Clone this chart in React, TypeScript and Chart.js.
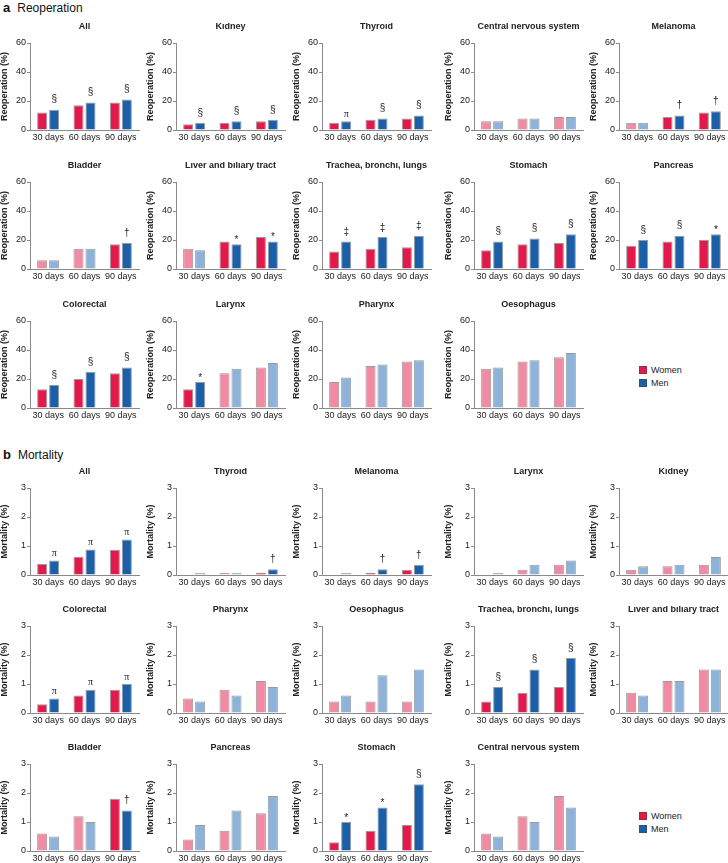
import React, { useEffect, useRef } from "react";
import { Chart, registerables } from "chart.js";
Chart.register(...registerables);

const FONT = '"Liberation Sans", Arial, Helvetica, sans-serif';
Chart.defaults.font.family = FONT;
Chart.defaults.color = "#222";

const DAYS = ["30 days", "60 days", "90 days"];

// ---- Reoperation (%) ----
const reopTitles = [
  "All", "Kidney", "Thyroid", "Central nervous system", "Melanoma",
  "Bladder", "Liver and biliary tract", "Trachea, bronchi, lungs", "Stomach", "Pancreas",
  "Colorectal", "Larynx", "Pharynx", "Oesophagus",
];
const reopWomen = [
  [12, 17, 19], [4, 5, 6], [5, 7, 8], [6, 8, 9], [5, 9, 12],
  [6, 14, 17], [14, 19, 22], [12, 14, 15], [13, 17, 18], [16, 19, 20],
  [13, 20, 24], [13, 24, 28], [18, 29, 32], [27, 32, 35],
];
const reopMen = [
  [14, 19, 21], [5, 6, 7], [6, 8, 10], [6, 8, 9], [5, 10, 13],
  [6, 14, 18], [13, 17, 19], [19, 22, 23], [19, 21, 24], [20, 23, 24],
  [16, 25, 28], [18, 27, 31], [21, 30, 33], [28, 33, 38],
];
const reopMarks = [
  ["§", "§", "§"], ["§", "§", "§"], ["π", "§", "§"], ["", "", ""], ["", "†", "†"],
  ["", "", "†"], ["", "*", "*"], ["‡", "‡", "‡"], ["§", "§", "§"], ["§", "§", "*"],
  ["§", "§", "§"], ["*", "", ""], ["", "", ""], ["", "", ""],
];

// ---- Mortality (%) ----
const mortTitles = [
  "All", "Thyroid", "Melanoma", "Larynx", "Kidney",
  "Colorectal", "Pharynx", "Oesophagus", "Trachea, bronchi, lungs", "Liver and biliary tract",
  "Bladder", "Pancreas", "Stomach", "Central nervous system",
];
const mortWomen = [
  [0.38, 0.63, 0.87], [0, 0.07, 0.08], [0, 0.08, 0.18], [0, 0.18, 0.35], [0.18, 0.3, 0.35],
  [0.3, 0.6, 0.8], [0.5, 0.8, 1.1], [0.4, 0.4, 0.4], [0.4, 0.7, 0.9], [0.7, 1.1, 1.5],
  [0.6, 1.2, 1.8], [0.4, 0.7, 1.3], [0.3, 0.7, 0.9], [0.6, 1.2, 1.9],
];
const mortMen = [
  [0.5, 0.88, 1.22], [0.08, 0.08, 0.2], [0.08, 0.2, 0.35], [0.08, 0.35, 0.5], [0.3, 0.35, 0.62],
  [0.5, 0.8, 1.0], [0.4, 0.6, 0.9], [0.6, 1.3, 1.5], [0.9, 1.5, 1.9], [0.6, 1.1, 1.5],
  [0.5, 1.0, 1.4], [0.9, 1.4, 1.9], [1.0, 1.5, 2.3], [0.5, 1.0, 1.5],
];
const mortMarks = [
  ["π", "π", "π"], ["", "", "†"], ["", "†", "†"], ["", "", ""], ["", "", ""],
  ["π", "π", "π"], ["", "", ""], ["", "", ""], ["§", "§", "§"], ["", "", ""],
  ["", "", "†"], ["", "", ""], ["*", "*", "§"], ["", "", ""],
];

const W_BOLD = "#E3194B";
const W_PALE = "#F08BA3";
const M_BOLD = "#1B5FA9";
const M_PALE = "#8DB3DB";
const AXIS = "#8a8a8a";
const BORDER = "rgba(70,70,70,0.55)";

const COL_X = [29, 175, 321, 473, 618];
const REOP_TOPS = [43, 182, 321];
const MORT_TOPS = [488, 626, 764];

const MARK_OFFSET: Record<string, number> = { "§": 10, "†": 10, "‡": 9, "π": 7, "*": 4 };

type PanelProps = {
  axisX: number;
  top: number;
  title: string;
  women: number[];
  men: number[];
  marks: string[];
  yTitle: string;
  max: number;
  step: number;
};

function Panel({ axisX, top, title, women, men, marks, yTitle, max, step }: PanelProps) {
  const ref = useRef<HTMLCanvasElement>(null);
  useEffect(() => {
    const bold = marks.map((m) => m !== "");
    const annot = {
      id: "annot",
      afterDatasetsDraw(chart: any) {
        const { ctx, chartArea } = chart;
        ctx.save();
        ctx.fillStyle = "#222";
        ctx.textAlign = "center";
        ctx.textBaseline = "middle";
        ctx.font = `bold 9px ${FONT}`;
        ctx.fillText(title, (chartArea.left + chartArea.right) / 2, chartArea.top - 16);
        const meta = chart.getDatasetMeta(1);
        meta.data.forEach((el: any, i: number) => {
          const m = marks[i];
          if (!m) return;
          ctx.font = m === "π" ? '10px "Liberation Serif", serif' : `10px ${FONT}`;
          ctx.fillText(m, el.x, el.y - (MARK_OFFSET[m] ?? 8));
        });
        ctx.restore();
      },
    };
    const chart = new Chart(ref.current!, {
      type: "bar",
      data: {
        labels: DAYS,
        datasets: [
          {
            label: "Women",
            data: women,
            backgroundColor: bold.map((b) => (b ? W_BOLD : W_PALE)),
            borderColor: BORDER,
            borderWidth: 1,
            categoryPercentage: 0.66,
            barPercentage: 0.84,
          },
          {
            label: "Men",
            data: men,
            backgroundColor: bold.map((b) => (b ? M_BOLD : M_PALE)),
            borderColor: BORDER,
            borderWidth: 1,
            categoryPercentage: 0.66,
            barPercentage: 0.84,
          },
        ],
      },
      options: {
        responsive: false,
        animation: false,
        devicePixelRatio: 1,
        layout: { padding: { top: 20, right: 3, left: 0, bottom: 0 } },
        plugins: {
          legend: { display: false },
          tooltip: { enabled: false },
          title: { display: false },
        },
        scales: {
          x: {
            grid: { display: false, drawTicks: false, tickLength: 0 },
            border: { display: true, color: AXIS, width: 1 },
            ticks: { padding: 2, maxRotation: 0, minRotation: 0, autoSkip: false, color: "#222", font: { size: 9 } },
            afterFit: (s: any) => {
              s.height = 18;
            },
          },
          y: {
            min: 0,
            max,
            ticks: { stepSize: step, padding: 1, color: "#222", font: { size: 9 } },
            grid: { drawOnChartArea: false, drawTicks: true, tickLength: 3, color: AXIS },
            border: { display: true, color: AXIS, width: 1 },
            title: { display: true, text: yTitle, color: "#222", font: { size: 9, weight: "bold" }, padding: 0 },
            afterFit: (s: any) => {
              s.width = 31;
            },
          },
        },
      } as any,
      plugins: [annot],
    });
    return () => chart.destroy();
  }, []);
  return (
    <canvas
      ref={ref}
      width={143}
      height={125}
      style={{ position: "absolute", left: axisX - 30, top: top - 20, width: 143, height: 125 }}
    />
  );
}

function Legend({ top }: { top: number }) {
  const item = (color: string, text: string, y: number) => (
    <div style={{ position: "absolute", left: 639, top: y - 6, height: 12, display: "flex", alignItems: "center" }}>
      <div style={{ width: 8, height: 8, background: color, boxSizing: "border-box", border: "1px solid rgba(70,70,70,0.5)" }} />
      <span style={{ marginLeft: 4, fontSize: 9, lineHeight: "12px", color: "#222" }}>{text}</span>
    </div>
  );
  return (
    <>
      {item(W_BOLD, "Women", top)}
      {item(M_BOLD, "Men", top + 13)}
    </>
  );
}

function Header({ letter, text, y }: { letter: string; text: string; y: number }) {
  return (
    <div style={{ position: "absolute", left: 3, top: y - 8, height: 16, lineHeight: "16px", fontSize: 12, color: "#111", whiteSpace: "nowrap" }}>
      <span style={{ fontWeight: "bold", fontSize: 13 }}>{letter}</span>
      <span style={{ marginLeft: 7 }}>{text}</span>
    </div>
  );
}

export default function App() {
  useEffect(() => {
    document.body.style.margin = "0";
  }, []);
  return (
    <div
      style={{
        position: "absolute",
        left: 0,
        top: 0,
        width: 728,
        height: 863,
        overflow: "hidden",
        background: "#fff",
        fontFamily: FONT,
      }}
    >
      <Header letter="a" text="Reoperation" y={8} />
      {reopTitles.map((t, k) => (
        <Panel
          key={"r" + k}
          axisX={COL_X[k % 5]}
          top={REOP_TOPS[Math.floor(k / 5)]}
          title={t}
          women={reopWomen[k]}
          men={reopMen[k]}
          marks={reopMarks[k]}
          yTitle="Reoperation (%)"
          max={60}
          step={20}
        />
      ))}
      <Legend top={370} />
      <Header letter="b" text="Mortality" y={455} />
      {mortTitles.map((t, k) => (
        <Panel
          key={"m" + k}
          axisX={COL_X[k % 5]}
          top={MORT_TOPS[Math.floor(k / 5)]}
          title={t}
          women={mortWomen[k]}
          men={mortMen[k]}
          marks={mortMarks[k]}
          yTitle="Mortality (%)"
          max={3}
          step={1}
        />
      ))}
      <Legend top={816} />
    </div>
  );
}
